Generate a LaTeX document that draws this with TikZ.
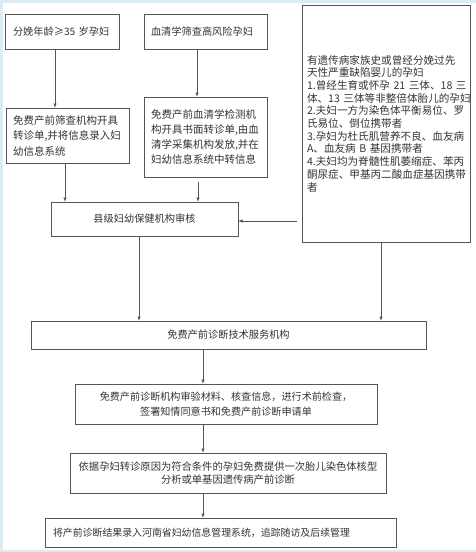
\documentclass[tikz,border=0pt]{standalone}
\usepackage{fontspec}
\setmainfont{Noto Sans CJK SC}
\usetikzlibrary{arrows.meta}
\definecolor{framebl}{HTML}{DCEAF2}
\definecolor{boxline}{HTML}{555555}
\definecolor{txt}{HTML}{333333}
\tikzset{
	box/.style={draw=boxline, line width=0.9pt, anchor=north west, outer sep=0pt, inner xsep=7pt, inner ysep=0pt, text=txt, font=\fontsize{10.2}{15}\selectfont},
	flow/.style={draw=boxline, line width=0.8pt, ->},
}

\begin{document}
\begin{tikzpicture}[x=1pt,y=-1pt,>={Latex[length=4.5pt,width=3.5pt]}]
		\useasboundingbox (0,0) rectangle (476,552);
		\fill[framebl] (0,0) rectangle (476,2.5);
		\fill[framebl] (0,0) rectangle (2.5,552);
		\fill[framebl] (0,549.5) rectangle (476,552);

		\node[box, inner xsep=8pt, minimum width=114pt, minimum height=35pt, text width=98pt, align=left] (age) at (5,14) {分娩年龄≥35 岁孕妇};
		\node[box, minimum width=123pt, minimum height=35pt, text width=109pt, align=left] (serum) at (144,14) {血清学筛查高风险孕妇};
		\node[box, minimum width=123pt, minimum height=55pt, text width=109pt, align=left, font=\fontsize{10.5}{15.5}\selectfont] (agecert) at (6,108) {免费产前筛查机构开具\\转诊单,并将信息录入妇\\幼信息系统};
		\node[box, minimum width=123pt, minimum height=80pt, text width=109pt, align=left, font=\fontsize{10.5}{15.2}\selectfont] (serumcert) at (144,97) {免费产前血清学检测机\\构开具书面转诊单,由血\\清学采集机构发放,并在\\妇幼信息系统中转信息};
		\node[box, minimum width=187pt, minimum height=34pt, text width=173pt, align=center] (county) at (51,202) {县级妇幼保健机构审核};
		\node[box, inner xsep=5pt, minimum width=168pt, minimum height=237pt, text width=158pt, align=left, font=\fontsize{10.6}{12.7}\selectfont] (hist) at (302,5) {有遗传病家族史或曾经分娩过先\\天性严重缺陷婴儿的孕妇\\1.曾经生育或怀孕~21~三体、18~三\\体、13~三体等非整倍体胎儿的孕妇\\2.夫妇一方为染色体平衡易位、罗\\氏易位、倒位携带者\\3.孕妇为杜氏肌营养不良、血友病\\A、血友病~B~基因携带者\\4.夫妇均为脊髓性肌萎缩症、苯丙\\酮尿症、甲基丙二酸血症基因携带\\者};
		\node[box, minimum width=395pt, minimum height=28pt, text width=381pt, align=center] (service) at (31,321) {免费产前诊断技术服务机构};
		\node[box, minimum width=302pt, minimum height=40pt, text width=288pt, align=center, font=\fontsize{10.1}{15}\selectfont] (check) at (75,384) {免费产前诊断机构审验材料、核查信息，进行术前检查，\\签署知情同意书和免费产前诊断申请单};
		\node[box, minimum width=316pt, minimum height=40pt, text width=302pt, align=center, font=\fontsize{10.3}{12.5}\selectfont] (diag) at (70,453) {依据孕妇转诊原因为符合条件的孕妇免费提供一次胎儿染色体核型\\分析或单基因遗传病产前诊断};
		\node[box, inner xsep=8pt, minimum width=351pt, minimum height=29pt, text width=335pt, align=left, font=\fontsize{9.9}{14}\selectfont] (record) at (45,518) {将产前诊断结果录入河南省妇幼信息管理系统，追踪随访及后续管理};

		\coordinate (xage) at (55,0);
		\coordinate (xserum) at (197,0);
		\coordinate (xcert) at (65,0);
		\coordinate (xscert) at (198,0);
		\coordinate (xcounty) at (139,0);
		\coordinate (xhist) at (381,0);
		\coordinate (xmid) at (203,0);
		\coordinate (yhist) at (0,221);

		\draw[flow] (age.south -| xage) -- (agecert.north -| xage);
		\draw[flow] (serum.south -| xserum) -- (serumcert.north -| xserum);
		\draw[flow] (agecert.south -| xcert) -- (county.north -| xcert);
		\draw[flow, shorten <=5pt] (serumcert.south -| xscert) -- (county.north -| xscert);
		\draw[flow, shorten <=5pt] (hist.west |- yhist) -- (county.east |- yhist);
		\draw[flow] (county.south -| xcounty) -- (service.north -| xcounty);
		\draw[flow] (hist.south -| xhist) -- (service.north -| xhist);
		\draw[flow] (service.south -| xmid) -- (check.north -| xmid);
		\draw[flow] (check.south -| xmid) -- (diag.north -| xmid);
		\draw[flow] (diag.south -| xmid) -- (record.north -| xmid);
	\end{tikzpicture}
\end{document}
